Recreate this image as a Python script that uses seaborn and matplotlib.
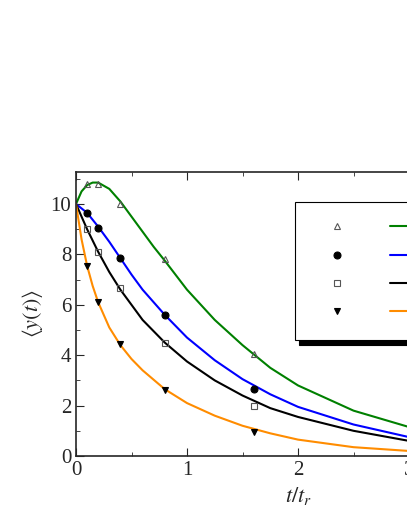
import matplotlib
matplotlib.use("Agg")
import matplotlib.pyplot as plt
import seaborn as sns
import numpy as np
from matplotlib.ticker import MultipleLocator
from matplotlib.legend_handler import HandlerTuple
from matplotlib.lines import Line2D

sns.set_style("ticks")
plt.rcParams['font.family'] = ['Liberation Serif', 'DejaVu Serif']
plt.rcParams['mathtext.fontset'] = 'stix'

t_pts = [0.1, 0.2, 0.4, 0.8, 1.6]
green_pts = [10.8, 10.8, 10.0, 7.8, 4.05]
blue_pts = [9.65, 9.05, 7.85, 5.6, 2.65]
black_pts = [9.0, 8.1, 6.65, 4.5, 2.0]
orange_pts = [7.55, 6.1, 4.45, 2.6, 0.95]

t_green = [0, 0.05, 0.1, 0.15, 0.2, 0.3, 0.4, 0.5, 0.6, 0.7, 0.8, 1.0, 1.25, 1.5, 1.75, 2.0, 2.5, 3.0, 3.5]
y_green = [10, 10.5, 10.75, 10.85, 10.85, 10.6, 10.1, 9.5, 8.9, 8.3, 7.75, 6.6, 5.4, 4.4, 3.5, 2.8, 1.8, 1.15, 0.75]
t_blue = [0, 0.1, 0.2, 0.3, 0.4, 0.5, 0.6, 0.8, 1.0, 1.25, 1.5, 1.75, 2.0, 2.5, 3.0, 3.5]
y_blue = [10, 9.65, 9.1, 8.5, 7.85, 7.2, 6.6, 5.6, 4.7, 3.8, 3.05, 2.45, 1.95, 1.25, 0.75, 0.45]
t_black = [0, 0.1, 0.2, 0.3, 0.4, 0.5, 0.6, 0.8, 1.0, 1.25, 1.5, 1.75, 2.0, 2.5, 3.0, 3.5]
y_black = [10, 9.0, 8.1, 7.3, 6.6, 6.0, 5.4, 4.5, 3.75, 3.0, 2.4, 1.9, 1.55, 1.0, 0.6, 0.4]
t_orange = [0, 0.05, 0.1, 0.15, 0.2, 0.3, 0.4, 0.5, 0.6, 0.8, 1.0, 1.25, 1.5, 1.75, 2.0, 2.5, 3.0, 3.5]
y_orange = [10, 8.6, 7.55, 6.75, 6.1, 5.1, 4.4, 3.85, 3.4, 2.65, 2.1, 1.6, 1.2, 0.9, 0.65, 0.35, 0.2, 0.1]

labels = ["γ=1", "γ=2", "γ=3", "γ=4"]

fig = plt.figure(figsize=(4.07, 5.27), dpi=100)
ax = fig.add_axes([76/407, (527-456)/527, 444/407, (456-172)/527])

series = [
    (t_green, y_green, green_pts, 'green', '^', 'none', '#555555'),
    (t_blue, y_blue, blue_pts, 'blue', 'o', 'black', 'black'),
    (t_black, y_black, black_pts, 'black', 's', 'none', '#555555'),
    (t_orange, y_orange, orange_pts, '#ff8c00', 'v', 'black', 'black'),
]
handles = []
for (tc, yc, yp, col, mk, fc, ec), lab in zip(series, labels):
    sns.lineplot(x=tc, y=yc, ax=ax, color=col, lw=1.5)
    ax.plot(t_pts, yp, ls='none', marker=mk, ms=5, mfc=fc, mec=ec, mew=0.8)
    hm = Line2D([], [], ls='none', marker=mk, ms=5, mfc=fc, mec=ec, mew=0.8)
    hl = Line2D([], [], color=col, lw=1.5)
    handles.append((hm, hl))

ax.set_xlim(0, 4)
ax.set_ylim(0, 11.27)
ax.xaxis.set_major_locator(MultipleLocator(1))
ax.xaxis.set_minor_locator(MultipleLocator(0.5))
ax.yaxis.set_major_locator(MultipleLocator(2))
ax.yaxis.set_minor_locator(MultipleLocator(1))
ax.tick_params(which='both', direction='in', top=True, right=True, labelsize=15)
ax.tick_params(which='major', length=6)
ax.tick_params(which='minor', length=3)
for s in ax.spines.values():
    s.set_linewidth(1.2)
ax.set_xlabel(r'$t/t_r$', fontsize=16)
ax.set_ylabel(r'$\langle y(t)\rangle$', fontsize=16)
leg = ax.legend(handles, labels, loc='upper left', bbox_to_anchor=(0.493, 0.894),
                borderaxespad=0, fontsize=14, frameon=True, fancybox=False,
                shadow={'color': 'black', 'alpha': 1, 'ox': 3, 'oy': -4},
                edgecolor='black', handlelength=6.5, borderpad=0.9, labelspacing=0.55,
                handler_map={tuple: HandlerTuple(ndivide=None, pad=1.5)})
leg.get_frame().set_linewidth(0.8)
fig.savefig('out.png', dpi=100)
